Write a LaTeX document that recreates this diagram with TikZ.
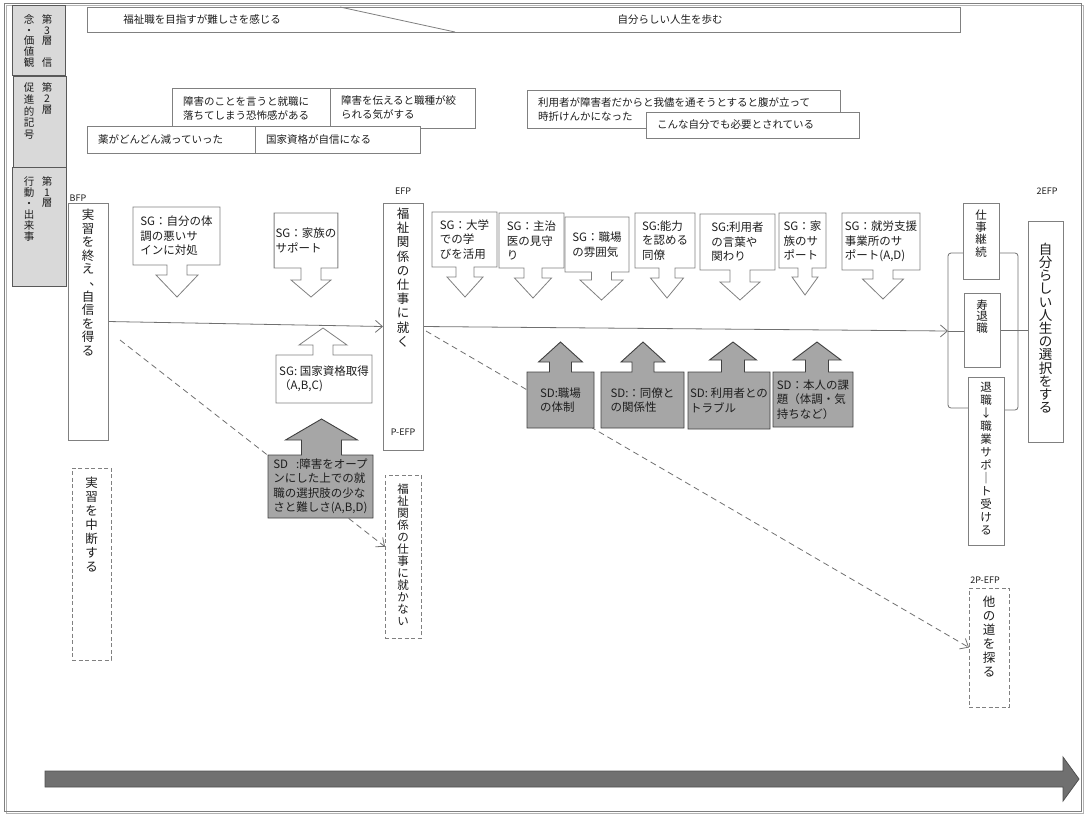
\documentclass[tikz,border=0pt]{standalone}
\usepackage{fontspec}
\setmainfont{Noto Sans CJK JP}
\usetikzlibrary{calc,arrows.meta}
\pgfdeclarelayer{lines}
\pgfdeclarelayer{shapes}
\pgfsetlayers{lines,shapes,main}

\ExplSyntaxOn
\NewDocumentCommand\VT{O{14pt}m}
 {
  \vbox:n
   {
    \baselineskip=#1\relax
    \lineskiplimit=-\c_max_dim
    \lineskip=\c_zero_dim
    \tl_map_inline:nn {#2} { \hbox_to_wd:nn {1.2em} { \hss ##1 \hss } }
   }
 }
\ExplSyntaxOff
\newcommand\vcm{\makebox[1em][l]{\hspace*{0.6em}\raisebox{0.15em}[0pt][0pt]{、}}}

\newcommand\tfs{\fontsize{10.5pt}{14pt}\selectfont}
\newcommand\cfs{\fontsize{11.5pt}{14.5pt}\selectfont}
\newcommand\lfs{\fontsize{9pt}{11pt}\selectfont}
\newcommand\gfs{\fontsize{10.5pt}{11pt}\selectfont}
\newcommand\vfs{\fontsize{12.5pt}{14pt}\selectfont}
\newcommand\vfm{\fontsize{11.5pt}{13pt}\selectfont}
\newcommand\vfl{\fontsize{13.5pt}{15pt}\selectfont}

\definecolor{bord}{HTML}{808080}
\definecolor{txt}{HTML}{1E1E1E}
\definecolor{sdfill}{HTML}{A6A6A6}
\definecolor{sdbord}{HTML}{404040}
\definecolor{legfill}{HTML}{D9D9D9}
\definecolor{legbord}{HTML}{595959}
\definecolor{conncol}{HTML}{707070}
\definecolor{bigfill}{HTML}{707070}
\definecolor{bigbord}{HTML}{505050}

\newcommand\downcall[7][callw]{%
 \begin{pgfonlayer}{shapes}
 \draw[#1] (#2.south west) -- (#2.north west) -- (#2.north east) -- (#2.south east)
  -- ($(#2.south)+({#3+#4},0)$) -- ($(#2.south)+({#3+#4},{#5})$)
  -- ($(#2.south)+({#3+#6},{#5})$) -- ($(#2.south)+({#3},{#5+#7})$)
  -- ($(#2.south)+({#3-#6},{#5})$) -- ($(#2.south)+({#3-#4},{#5})$)
  -- ($(#2.south)+({#3-#4},0)$) -- cycle;
 \end{pgfonlayer}}
\newcommand\upcall[7][calld]{%
 \begin{pgfonlayer}{shapes}
 \draw[#1] (#2.north west) -- (#2.south west) -- (#2.south east) -- (#2.north east)
  -- ($(#2.north)+({#3+#4},0)$) -- ($(#2.north)+({#3+#4},{-(#5)})$)
  -- ($(#2.north)+({#3+#6},{-(#5)})$) -- ($(#2.north)+({#3},{-(#5+#7)})$)
  -- ($(#2.north)+({#3-#6},{-(#5)})$) -- ($(#2.north)+({#3-#4},{-(#5)})$)
  -- ($(#2.north)+({#3-#4},0)$) -- cycle;
 \end{pgfonlayer}}

\tikzset{
 every node/.style={text=txt, outer sep=0pt},
 sz/.style 2 args={minimum width=#1, minimum height=#2},
 wbox/.style={draw=bord, fill=white, line width=0.8pt, inner sep=2pt},
 dbox/.style={draw=bord, fill=white, line width=0.8pt, dash pattern=on 4pt off 2.5pt},
 leg/.style={draw=legbord, fill=legfill, line width=0.8pt},
 lbox/.style={wbox, align=left, font=\tfs, inner xsep=11pt, inner ysep=1pt},
 vtxt/.style={inner sep=0pt, anchor=north},
 ctext/.style={align=left, inner sep=1.5pt, font=\cfs},
 callw/.style={draw=bord, fill=white, line width=0.8pt},
 calld/.style={draw=sdbord, fill=sdfill, line width=0.9pt},
 lbl/.style={font=\lfs, inner sep=0pt},
 conn/.style={draw=conncol, line width=0.8pt},
 arr/.style={-{Straight Barb[length=7pt,width=12pt]}},
 dconn/.style={conn, dash pattern=on 6pt off 4pt},
}

\begin{document}
\begin{tikzpicture}[x=1pt,y=-1pt]
\useasboundingbox (0,0) rectangle (1086,815);
% outer frame
\draw[draw=bord!60, line width=1pt] (6,5.5) rectangle (1083,813);
\draw[draw=bord, line width=1pt] (4,3) rectangle (1081,811);

% legend
\node[leg, sz={53}{70}] (L3) at (38.5,40) {};
\node[vtxt, font=\gfs] (L3r) at (47,14.5) {\VT[10.8pt]{第3層{}信}};
\node[vtxt, font=\gfs] (L3l) at (29,14.5) {\VT[10.8pt]{念・価値観}};
\node[leg, sz={53}{91}] (L2) at (39.5,121.5) {};
\node[vtxt, font=\gfs] (L2r) at (47,82.5) {\VT[11pt]{第2層}};
\node[vtxt, font=\gfs] (L2l) at (29,82.5) {\VT[11.9pt]{促進的記号}};
\node[leg, sz={54}{119}] (L1) at (39,226.5) {};
\node[vtxt, font=\gfs] (L1r) at (47,176.5) {\VT[10.8pt]{第1層}};
\node[vtxt, font=\gfs] (L1l) at (29,176.5) {\VT[11pt]{行動・出来事}};

% layer 3
\node[wbox, sz={873}{25}] (top3) at (523.5,19.5) {};
\draw[draw=bord, line width=0.8pt] ($(top3.north west)+(253,0)$) -- ($(top3.south west)+(368,0)$);
\node[font=\tfs] (t3a) at (202,19.5) {福祉職を目指すが難しさを感じる};
\node[font=\tfs] (t3b) at (670,19.5) {自分らしい人生を歩む};

% layer 2
\node[lbox, text width=136pt, minimum height=40pt] (l2a) at (251,108) {障害のことを言うと就職に\\落ちてしまう恐怖感がある};
\node[lbox, text width=123pt, minimum height=40pt] (l2b) at (402.5,108) {障害を伝えると職種が絞\\られる気がする};
\node[lbox, text width=146pt, minimum height=27pt] (l2c) at (171,139.5) {薬がどんどん減っていった};
\node[lbox, text width=143pt, minimum height=27pt] (l2d) at (337.5,139.5) {国家資格が自信になる};
\node[lbox, text width=291pt, minimum height=38pt, anchor=north] (l2e) at (683.5,90) {利用者が障害者だからと我儘を通そうとすると腹が立って\\時折けんかになった};
\node[lbox, text width=191pt, minimum height=26pt] (l2f) at (752.5,125) {こんな自分でも必要とされている};

% layer 1 : start
\node[lbl] (bfpL) at (78,198) {BFP};
\node[wbox, sz={40}{237}] (bfp) at (88,321.5) {};
\node[vtxt, font=\vfs] (bfpT) at (88,209) {\VT[13.6pt]{実習を終え{\vcm}自信を得る}};
\node[dbox, sz={39}{192}] (stop) at (91.5,564) {};
\node[vtxt, font=\vfs] (stopT) at (91.5,477) {\VT[14pt]{実習を中断する}};

% SG callouts (left part)
\node[ctext, sz={87}{58}] (sg1) at (176.5,236) {SG：自分の体\\調の悪いサ\\インに対処};
\downcall{sg1}{0.5}{10}{10}{21}{22}
\node[ctext, sz={60}{55}] (sg2) at (306,240.5) {SG：家族の\\サポート};
\downcall{sg2}{5}{10}{12}{20}{17}
\node[ctext, sz={96}{48}] (sg3) at (324,379) {SG: 国家資格取得\\（A,B,C)};
\upcall[callw]{sg3}{-1}{10}{10}{24}{17}
\node[ctext, sz={105}{63}] (sd1) at (320.5,486.5) {SD\hspace{0.7em}:障害をオープ\\ンにした上での就\\職の選択肢の少な\\さと難しさ(A,B,D)};
\upcall{sd1}{1}{20}{15}{36}{21}

% EFP
\node[lbl] (efpL) at (403,191) {EFP};
\node[wbox, sz={40}{247}] (efp) at (403,326.5) {};
\node[vtxt, font=\vfs] (efpT) at (403,208) {\VT[14.2pt]{福祉関係の仕事に就く}};
\node[lbl] (pefp) at (403,432) {P-EFP};
\node[dbox, sz={36}{163}] (nfp) at (403,556.5) {};
\node[vtxt, font=\vfm] (nfpT) at (403,484) {\VT[12pt]{福祉関係の仕事に就かない}};

% SG callouts (right part)
\node[ctext, sz={65}{55}] (sg4) at (464.5,239.5) {SG：大学\\での学\\びを活用};
\downcall{sg4}{0.5}{9}{10}{18}{20}
\node[ctext, sz={65}{55}] (sg5) at (531.5,240.5) {SG：主治\\医の見守\\り};
\downcall{sg5}{1.5}{9}{10}{18.5}{20}
\node[ctext, sz={64}{55}] (sg6) at (597,244.5) {SG：職場\\の雰囲気};
\downcall{sg6}{4.5}{10}{8}{21.5}{20}
\node[ctext, sz={60}{55}] (sg7) at (665,240.5) {SG:能力\\を認める\\同僚};
\downcall{sg7}{2}{8}{10}{16.5}{20}
\node[ctext, sz={75}{56}] (sg8) at (737.5,242) {SG:利用者\\の言葉や\\関わり};
\downcall{sg8}{2.5}{10}{12}{20}{18}
\node[ctext, sz={47}{55}] (sg9) at (802.5,240.5) {SG：家\\族のサ\\ポート};
\downcall{sg9}{2.5}{7}{9}{13}{18}
\node[ctext, sz={78}{57}] (sg10) at (881,241.5) {SG：就労支援\\事業所のサ\\ポート(A,D)};
\downcall{sg10}{2}{10}{9}{20.5}{20}

% SD callouts
\node[ctext, sz={67}{56}] (sd2) at (560.5,400) {SD:職場\\の体制};
\upcall{sd2}{0}{11}{10}{22}{20}
\node[ctext, sz={83}{56}] (sd3) at (642.5,400) {SD:：同僚と\\の関係性};
\upcall{sd3}{0.5}{11}{10}{22}{20}
\node[ctext, sz={82}{57}] (sd4) at (729,400.5) {SD: 利用者との\\トラブル};
\upcall{sd4}{4}{11.5}{12}{23.5}{18}
\node[ctext, sz={80}{55}] (sd5) at (813,399.5) {SD：本人の課\\題（体調・気\\持ちなど）};
\upcall{sd5}{4}{11.5}{12}{24}{18}

% right column
\node[lbl] (e2L) at (1047,191) {2EFP};
\node[wbox, sz={36}{76}] (cont) at (981,241) {};
\node[vtxt, font=\vfm] (contT) at (981,209.5) {\VT[12.3pt]{仕事継続}};
\node[wbox, sz={36}{74}] (kotob) at (982,330) {};
\node[vtxt, font=\vfm] (kotobT) at (982,299.5) {\VT[11.5pt]{寿退職}};
\node[wbox, sz={36}{168}] (retire) at (986,461) {};
\node[vtxt, font=\vfm] (retireT) at (986,382) {\VT[13pt]{退職↓職業サポ｜ト受ける}};
\node[wbox, sz={35}{221}] (final) at (1045.5,331.5) {};
\node[vtxt, font=\vfl] (finalT) at (1045.5,243) {\VT[13.2pt]{自分らしい人生の選択をする}};
\node[lbl] (p2L) at (985,580) {2P-EFP};
\node[dbox, sz={40}{119}] (r2p) at (989,647.5) {};
\node[vtxt, font=\vfs] (r2pT) at (989,596) {\VT[14pt]{他の道を探る}};

% connectors
\coordinate (jn) at (948,331);
\coordinate (brTL) at (948,253);
\coordinate (brBL) at (948,408);
\coordinate (brTR) at (1018,253);
\coordinate (brBR) at (1018,410);
\coordinate (d1s) at (120,340);
\coordinate (d2s) at (426,331);
\coordinate (nfpIn) at ($(nfp.north west)!0.44!(nfp.south west)$);
\begin{pgfonlayer}{lines}
\draw[conn, arr] (bfp.east) -- (efp.west);
\draw[conn, arr] (efp.east) -- (jn);
\draw[conn] (jn) -- (kotob.west |- jn);
\draw[conn] (kotob.east) -- (final.west |- kotob.east);
\draw[conn, rounded corners=3pt] (cont.west |- brTL) -- (brTL) -- (brBL) -- (retire.west |- brBL);
\draw[conn, rounded corners=3pt] (cont.east |- brTR) -- (brTR) -- (brBR) -- (retire.east |- brBR);
\draw[dconn, arr] (d1s) -- (nfpIn);
\draw[dconn, arr] (d2s) -- (r2p.west);
\end{pgfonlayer}

% time arrow
\draw[fill=bigfill, draw=bigbord, line width=0.8pt] (45,771) -- (1063,771) -- (1063,757) -- (1079,779) -- (1063,801) -- (1063,787) -- (45,787) -- cycle;
\end{tikzpicture}
\end{document}
